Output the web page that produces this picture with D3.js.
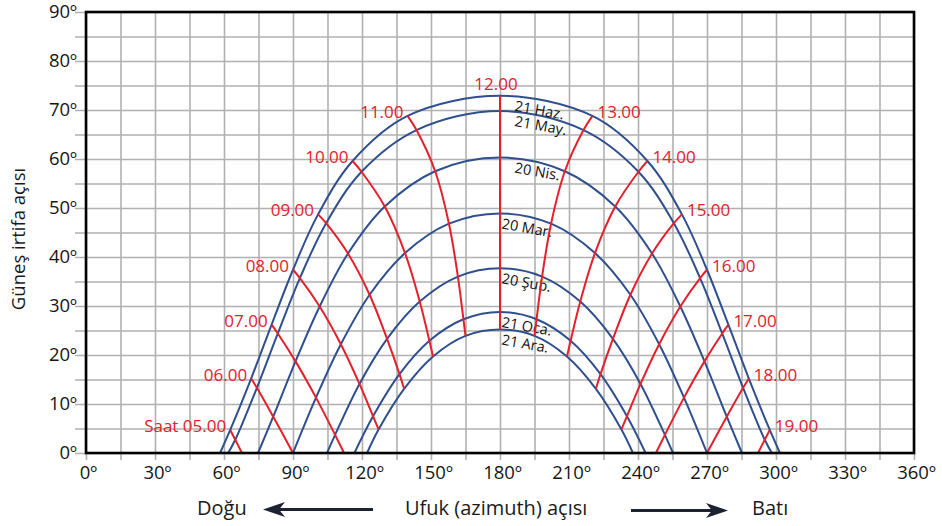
<!DOCTYPE html>
<meta charset="utf-8">
<style>
body { margin: 0; background: #fff; }
text { font-family: "Open Sans", sans-serif; }
.grid line { stroke: #b1b1b1; stroke-width: 1.6px; }
.grid .domain { display: none; }
.grid text { font-size: 18.5px; fill: #151515; }
.day path { fill: none; stroke: #2f4f8e; stroke-width: 2px; }
.hour path { fill: none; stroke: #e3202b; stroke-width: 2px; }
.hour text { fill: #e3202b; font-size: 17px; }
.day text { fill: #111; font-size: 14.5px; }
.caption { font-size: 20px; fill: #1a1a1a; }
</style>
<svg width="942" height="526"></svg>
<script src="https://d3js.org/d3.v7.min.js"></script>
<script>

// sun path dates, top (highest) to bottom
var dayNames = ["21 Haz.", "21 May.", "20 Nis.", "20 Mar.", "20 Şub.", "21 Oca.", "21 Ara."];

// hours 05.00 ... 19.00
var hourNames = ["Saat 05.00", "06.00", "07.00", "08.00", "09.00", "10.00", "11.00", "12.00",
                 "13.00", "14.00", "15.00", "16.00", "17.00", "18.00", "19.00"];

// azimuth / altitude of the sun at each hour (null = below horizon)
var azHaz  = [62.7, 71.8, 80.7, 90.0, 100.9, 115.9, 139.8, 180, 220.2, 244.1, 259.1, 270.0, 279.3, 288.2, 297.3];
var altHaz = [4.7, 15.2, 26.2, 37.4, 48.7, 59.6, 68.8, 72.9, 68.8, 59.6, 48.7, 37.4, 26.2, 15.2, 4.7];

var azMay  = [64.9, 74.3, 83.4, 93.0, 104.4, 119.8, 143.7, 180, 216.3, 240.2, 255.6, 267.0, 276.6, 285.7, 295.1];
var altMay = [2.7, 13.3, 24.4, 35.7, 46.9, 57.4, 65.9, 69.8, 65.9, 57.4, 46.9, 35.7, 24.4, 13.3, 2.7];

var azNis  = [null, 81.4, 91.1, 101.6, 113.9, 129.9, 151.8, 180, 208.2, 230.1, 246.1, 258.4, 268.9, 278.6, null];
var altNis = [null, 7.4, 18.7, 29.9, 40.7, 50.3, 57.5, 60.3, 57.5, 50.3, 40.7, 29.9, 18.7, 7.4, null];

var azMar  = [null, 90.0, 100.0, 110.8, 123.3, 138.7, 157.8, 180, 202.2, 221.3, 236.7, 249.2, 260.0, 270.0, null];
var altMar = [null, 0, 11.3, 22.2, 32.3, 40.8, 46.8, 48.9, 46.8, 40.8, 32.3, 22.2, 11.3, 0, null];

var azSub  = [null, null, 108.3, 118.9, 130.9, 145.1, 161.7, 180, 198.3, 214.9, 229.1, 241.1, 251.7, null, null];
var altSub = [null, null, 3.7, 14.1, 23.3, 30.9, 36.0, 37.7, 36.0, 30.9, 23.3, 14.1, 3.7, null, null];

var azOca  = [null, null, null, 124.8, 136.3, 149.3, 164.1, 180, 195.9, 210.7, 223.7, 235.2, null, null, null];
var altOca = [null, null, null, 7.5, 16.1, 22.9, 27.3, 28.8, 27.3, 22.9, 16.1, 7.5, null, null, null];

var azAra  = [null, null, null, 127.2, 138.3, 150.9, 165.0, 180, 195.0, 209.1, 221.7, 232.8, null, null, null];
var altAra = [null, null, null, 4.8, 13.1, 19.7, 23.9, 25.2, 23.9, 19.7, 13.1, 4.8, null, null, null];

// sunrise / sunset azimuths (altitude 0)
var sunriseAz = [58.3, 61.8, 74.8, 90, 104.8, 116.7, 122.2];
var sunsetAz  = [301.7, 298.2, 285.2, 270, 255.2, 243.3, 237.8];

// where an hour line runs down to the horizon
var horizonAz = [67.8, null, 112.2, null, null, null, null, null, null, null, null, null, 247.8, null, 292.2];

// axis labels
var xTickLabels = [0, 30, 60, 90, 120, 150, 180, 210, 240, 270, 300, 330, 360];
var yTickLabels = [0, 10, 20, 30, 40, 50, 60, 70, 80, 90];

var azTable  = [azHaz, azMay, azNis, azMar, azSub, azOca, azAra];
var altTable = [altHaz, altMay, altNis, altMar, altSub, altOca, altAra];

var svg = d3.select("svg");
var plotL = 86, plotR = 914, plotT = 12, plotB = 453;

var x = d3.scaleLinear().domain([0, 360]).range([plotL, plotR]);
var y = d3.scaleLinear().domain([0, 90]).range([plotB, plotT]);

// grid + axes
var xg = svg.append("g")
  .attr("class", "grid")
  .attr("transform", "translate(0," + plotB + ")")
  .call(d3.axisBottom(x)
    .tickValues(d3.range(0, 361, 15))
    .tickSizeInner(-(plotB - plotT))
    .tickSizeOuter(0)
    .tickPadding(13)
    .tickFormat(function(d) { return xTickLabels.indexOf(d) >= 0 ? d + "º" : ""; }));
xg.selectAll(".tick line").attr("y1", 7);
xg.selectAll(".tick text").attr("dx", 2);

var yg = svg.append("g")
  .attr("class", "grid")
  .attr("transform", "translate(" + plotL + ",0)")
  .call(d3.axisLeft(y)
    .tickValues(d3.range(0, 91, 5))
    .tickSizeInner(-(plotR - plotL))
    .tickSizeOuter(0)
    .tickPadding(9)
    .tickFormat(function(d) { return yTickLabels.indexOf(d) >= 0 ? d + "º" : ""; }));
yg.selectAll(".tick line").attr("x1", -11);
yg.selectAll(".tick text").attr("dy", "0.32em");

// sun paths
var line = d3.line()
  .x(function(d) { return x(d[0]); })
  .y(function(d) { return y(d[1]); })
  .curve(d3.curveCatmullRom.alpha(0.5));

var dayData = dayNames.map(function(name, i) {
  var pts = [[sunriseAz[i], 0]];
  azTable[i].forEach(function(a, j) {
    if (a != null && altTable[i][j] > 0) pts.push([a, altTable[i][j]]);
  });
  pts.push([sunsetAz[i], 0]);
  return { name: name, pts: pts, peak: altTable[i][7] };
});

var dayG = svg.append("g").attr("class", "day");
dayG.selectAll("path")
  .data(dayData)
  .enter().append("path")
  .attr("d", function(d) { return line(d.pts); });

dayG.selectAll("text")
  .data(dayData)
  .enter().append("text")
  .attr("transform", function(d, i) {
    return "translate(" + (x(180) + (i < 3 ? 14 : 1)) + "," + (y(d.peak) + 15) + ") rotate(10)";
  })
  .text(function(d) { return d.name; });

// hour lines
var hourData = hourNames.map(function(name, j) {
  var pts = [];
  azTable.forEach(function(az, i) {
    if (az[j] != null) pts.push([az[j], altTable[i][j]]);
  });
  if (horizonAz[j] != null) pts.push([horizonAz[j], 0]);
  return { name: name, j: j, pts: pts };
});

var hourG = svg.append("g").attr("class", "hour");
hourG.selectAll("path")
  .data(hourData)
  .enter().append("path")
  .attr("d", function(d) { return line(d.pts); });

hourG.selectAll("text")
  .data(hourData)
  .enter().append("text")
  .attr("x", function(d) {
    var px = x(d.pts[0][0]);
    return d.j < 7 ? px - 4 : d.j > 7 ? px + 5 : px - 4;
  })
  .attr("y", function(d) {
    var py = y(d.pts[0][1]);
    return d.j == 7 ? py - 6 : py + 2;
  })
  .attr("text-anchor", function(d) { return d.j < 7 ? "end" : d.j > 7 ? "start" : "middle"; })
  .text(function(d) { return d.name; });

// frame
svg.append("rect")
  .attr("x", plotL).attr("y", plotT)
  .attr("width", plotR - plotL).attr("height", plotB - plotT)
  .attr("fill", "none").attr("stroke", "#000").attr("stroke-width", 2.6);

// axis titles
svg.append("text")
  .attr("class", "caption")
  .attr("transform", "translate(25,239) rotate(-90)")
  .attr("text-anchor", "middle")
  .style("font-size", "18.5px")
  .text("Güneş irtifa açısı");

svg.append("text").attr("class", "caption").attr("x", 197).attr("y", 515).text("Doğu");
svg.append("text").attr("class", "caption").attr("x", 405).attr("y", 515).text("Ufuk (azimuth) açısı");
svg.append("text").attr("class", "caption").attr("x", 752).attr("y", 515).text("Batı");

// direction arrows
var arrowCol = "#1c2232";
svg.append("line").attr("x1", 276).attr("x2", 373).attr("y1", 509.5).attr("y2", 509.5)
  .attr("stroke", arrowCol).attr("stroke-width", 3);
svg.append("path").attr("d", "M263,509.5 L285,502 L279,509.5 L285,517 Z").attr("fill", arrowCol);
svg.append("line").attr("x1", 631).attr("x2", 716).attr("y1", 510.5).attr("y2", 510.5)
  .attr("stroke", arrowCol).attr("stroke-width", 3);
svg.append("path").attr("d", "M728,510.5 L706,503 L712,510.5 L706,518 Z").attr("fill", arrowCol);

</script>
